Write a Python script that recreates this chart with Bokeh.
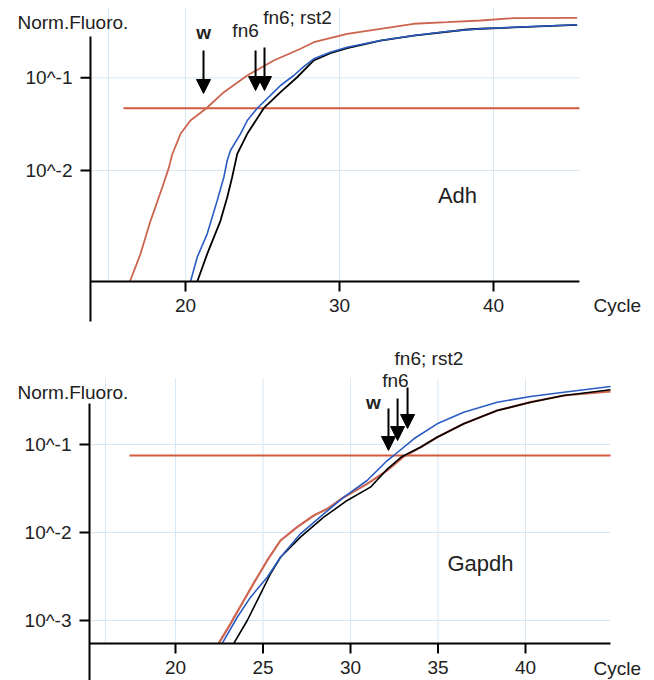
import numpy as np
from bokeh.plotting import figure
from bokeh.models import Arrow, NormalHead, Range1d, ColumnDataSource
from bokeh.core.properties import value
from bokeh.layouts import column
from bokeh.embed import file_html
from bokeh.resources import INLINE

FONT = "Liberation Sans"
TXT = "#222222"
RED = "#cd6450"
THR = "#d25a40"
BLUE = "#2a5cc4"
BLACK = "#000000"
GRID = "#d8e8f4"

# ---------------- Adh panel (log10 of Norm.Fluoro.) ----
adh_w_cycle = [16.38, 17.08, 17.73, 18.49, 18.92, 19.14, 19.68, 20.32, 21.36, 22.49, 24.01,
               25.73, 27.47, 28.33, 30.50, 32.66, 34.82, 36.99, 39.16, 41.32, 45.43]
adh_w_log = [-3.20, -2.899, -2.543, -2.184, -1.969, -1.825, -1.604, -1.461, -1.328, -1.155, -0.975,
             -0.813, -0.687, -0.616, -0.525, -0.471, -0.417, -0.400, -0.382, -0.357, -0.353]

adh_fn6_cycle = [20.32, 20.76, 21.41, 22.06, 22.49, 22.71, 22.92, 23.57, 24.01, 24.66, 25.73,
                 26.17, 27.03, 27.68, 28.33, 29.40, 30.50, 32.66, 34.82, 36.99, 39.16, 41.32, 45.43]
adh_fn6_log = [-3.20, -2.935, -2.683, -2.323, -2.072, -1.892, -1.784, -1.604, -1.461, -1.328, -1.155,
               -1.083, -0.975, -0.880, -0.795, -0.725, -0.670, -0.598, -0.544, -0.501, -0.471,
               -0.454, -0.428]

adh_rst2_cycle = [20.76, 21.41, 22.27, 22.71, 23.03, 23.36, 24.01, 25.08, 26.17, 27.25, 28.33,
                  29.40, 30.50, 32.66, 34.82, 38.29, 39.16, 45.43]
adh_rst2_log = [-3.20, -2.899, -2.543, -2.288, -2.072, -1.820, -1.604, -1.328, -1.155, -0.994, -0.813,
                -0.735, -0.681, -0.598, -0.544, -0.479, -0.471, -0.428]

adh_threshold = 0.047
adh_threshold_from = 15.97
adh_xticks = [20, 30, 40]
adh_xgrid = [15, 20, 30, 40]
adh_yticks = [0.1, 0.01]
adh_ylabels = ["10^-1", "10^-2"]
adh_arrow_cycle = [21.17, 24.55, 25.13]
adh_arrow_top_log = [-0.706, -0.706, -0.673]
adh_arrow_tip_log = [-1.169, -1.137, -1.137]
adh_labels = ["w", "fn6", "fn6; rst2"]
adh_label_cycle = [21.17, 23.9, 27.27]
adh_label_log = [-0.511, -0.49, -0.35]

# ---------------- Gapdh panel ----------------
gapdh_w_cycle = [22.47, 23.14, 23.90, 24.67, 25.24, 26.00, 26.95, 27.90, 28.67, 29.62, 30.95,
                 32.10, 33.05, 34.00, 34.95, 36.47, 38.38, 40.29, 42.19, 44.86]
gapdh_w_log = [-3.26, -3.038, -2.773, -2.508, -2.318, -2.091, -1.940, -1.807, -1.731, -1.599, -1.447,
               -1.295, -1.136, -1.031, -0.917, -0.765, -0.614, -0.519, -0.443, -0.398]

gapdh_fn6_cycle = [22.67, 23.53, 24.29, 25.24, 26.00, 27.14, 28.47, 29.62, 30.95, 32.10, 32.47,
                   33.62, 34.95, 36.47, 38.38, 40.29, 42.19, 44.86]
gapdh_fn6_log = [-3.26, -2.963, -2.735, -2.508, -2.281, -2.015, -1.788, -1.599, -1.409, -1.182, -1.125,
                 -0.935, -0.765, -0.633, -0.519, -0.455, -0.406, -0.341]

gapdh_rst2_cycle = [23.33, 24.10, 24.86, 25.43, 26.00, 27.14, 28.47, 29.81, 31.14, 32.10, 32.95,
                    34.00, 34.95, 36.47, 38.38, 40.29, 42.19, 44.86]
gapdh_rst2_log = [-3.26, -3.000, -2.697, -2.469, -2.281, -2.053, -1.826, -1.636, -1.485, -1.280, -1.136,
                  -1.031, -0.917, -0.765, -0.614, -0.519, -0.443, -0.378]

gapdh_threshold = 0.075
gapdh_threshold_from = 17.37
gapdh_xticks = [20, 25, 30, 35, 40]
gapdh_xgrid = [16, 20, 25, 30, 35, 40]
gapdh_yticks = [0.1, 0.01, 0.001]
gapdh_ylabels = ["10^-1", "10^-2", "10^-3"]
gapdh_arrow_cycle = [32.17, 32.69, 33.26]
gapdh_arrow_top_log = [-0.591, -0.477, -0.352]
gapdh_arrow_tip_log = [-1.068, -0.955, -0.818]
gapdh_labels = ["w", "fn6", "fn6; rst2"]
gapdh_label_cycle = [31.31, 32.57, 34.48]
gapdh_label_log = [-0.523, -0.273, -0.026]


def L(v):
    return 10 ** np.asarray(v, dtype=float)


def txt(p, x, y, t, size="19px", align="center", style="normal"):
    p.text(x=x, y=y, text=t, text_font=value(FONT), text_font_size=value(size),
           text_color=TXT, text_align=align, text_baseline="middle", text_font_style=style)


def panel(H, xr, lr, geo, xgrid, xticks, yticks, ylabels, curves, thr, thr_from,
          arrows, labels, gene, gene_pos, ylab_pos, cyc_pos):
    W = 654
    p = figure(width=W, height=H, x_range=Range1d(*xr), y_range=Range1d(10 ** lr[0], 10 ** lr[1]),
               y_axis_type="log", x_axis_location=None, y_axis_location=None, title=None,
               min_border=0, output_backend="svg", toolbar_location=None)
    p.grid.visible = False
    p.outline_line_color = None
    p.background_fill_color = "white"
    p.border_fill_color = "white"
    kx = W / (xr[1] - xr[0])      # pixels per cycle
    ky = H / (lr[1] - lr[0])      # pixels per decade
    sx, ex, ay, st, sb, gt = geo  # spine x, axis end, axis level, spine top, spine bottom, grid top

    n = len(xgrid)
    p.segment(x0=xgrid, x1=xgrid, y0=list(L([ay] * n)), y1=list(L([gt] * n)),
              line_color=GRID, line_width=1)
    m = len(yticks)
    p.segment(x0=[sx] * m, x1=[ex] * m, y0=yticks, y1=yticks, line_color=GRID, line_width=1)

    p.line([thr_from, ex], [thr, thr], line_color=THR, line_width=2)

    for cyc, lg, col, w in curves:
        p.line(cyc, list(L(lg)), line_color=col, line_width=w)

    # axes
    p.line([sx, sx], list(L([sb, st])), line_color="black", line_width=2)
    p.line([sx, ex], list(L([ay, ay])), line_color="black", line_width=2)
    k = len(xticks)
    p.segment(x0=xticks, x1=xticks, y0=list(L([ay] * k)), y1=list(L([ay - 10 / ky] * k)),
              line_color="black", line_width=2)
    txt(p, xticks, list(L([ay - 24 / ky] * k)), [str(t) for t in xticks])
    p.segment(x0=[sx] * m, x1=[sx - 10 / kx] * m, y0=yticks, y1=yticks,
              line_color="black", line_width=2)
    txt(p, [sx - 18 / kx] * m, yticks, ylabels, align="right")

    ac, at, atip = arrows
    src = ColumnDataSource(dict(x=ac, y0=list(L(at)), y1=list(L(atip))))
    p.add_layout(Arrow(end=NormalHead(size=14, fill_color="black", line_color="black"),
                       source=src, x_start="x", y_start="y0", x_end="x", y_end="y1",
                       line_color="black", line_width=2))

    lt, lc, ll = labels
    for t, c, l in zip(lt, lc, ll):
        txt(p, [c], [10 ** l], [t], style="bold" if t == "w" else "normal")

    txt(p, [gene_pos[0]], [10 ** gene_pos[1]], [gene], size="22px")
    txt(p, [ylab_pos[0]], [10 ** ylab_pos[1]], ["Norm.Fluoro."], align="left")
    txt(p, [cyc_pos[0]], [10 ** cyc_pos[1]], ["Cycle"], align="left")
    return p


p1 = panel(330, (7.987, 50.455), (-3.726, -0.166),
           (13.83, 45.58, -3.197, -0.554, -3.629, -0.25),
           adh_xgrid, adh_xticks, adh_yticks, adh_ylabels,
           [(adh_w_cycle, adh_w_log, RED, 1.8),
            (adh_rst2_cycle, adh_rst2_log, BLACK, 1.8),
            (adh_fn6_cycle, adh_fn6_log, BLUE, 1.6)],
           adh_threshold, adh_threshold_from,
           (adh_arrow_cycle, adh_arrow_top_log, adh_arrow_tip_log),
           (adh_labels, adh_label_cycle, adh_label_log),
           "Adh", (37.66, -2.27), (9.09, -0.403), (46.49, -3.456))

p2 = panel(350, (10.0, 47.371), (-3.682, 0.2955),
           (15.086, 44.857, -3.261, -0.534, -3.682, -0.25),
           gapdh_xgrid, gapdh_xticks, gapdh_yticks, gapdh_ylabels,
           [(gapdh_w_cycle, gapdh_w_log, RED, 2.2),
            (gapdh_rst2_cycle, gapdh_rst2_log, BLACK, 1.6),
            (gapdh_fn6_cycle, gapdh_fn6_log, BLUE, 1.6)],
           gapdh_threshold, gapdh_threshold_from,
           (gapdh_arrow_cycle, gapdh_arrow_top_log, gapdh_arrow_tip_log),
           (gapdh_labels, gapdh_label_cycle, gapdh_label_log),
           "Gapdh", (37.43, -2.352), (10.97, -0.409), (43.89, -3.545))

layout = column(p1, p2)
open("out.html", "w").write(file_html(layout, INLINE))
